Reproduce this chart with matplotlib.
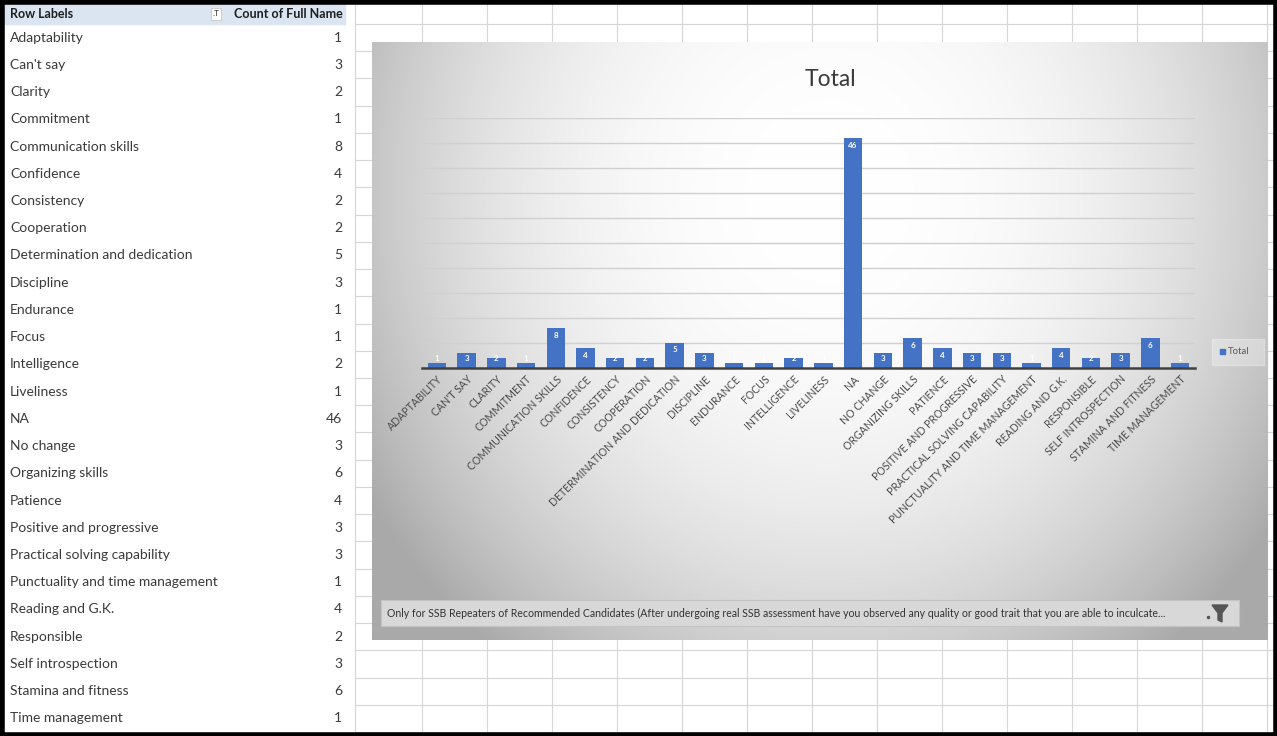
import numpy as np
import matplotlib.pyplot as plt
from matplotlib.patches import Rectangle, Polygon

# pivot table: trait -> count of full name
row_labels = ["Adaptability", "Can't say", "Clarity", "Commitment", "Communication skills",
              "Confidence", "Consistency", "Cooperation", "Determination and dedication",
              "Discipline", "Endurance", "Focus", "Intelligence", "Liveliness", "NA",
              "No change", "Organizing skills", "Patience", "Positive and progressive",
              "Practical solving capability", "Punctuality and time management",
              "Reading and G.K.", "Responsible", "Self introspection", "Stamina and fitness",
              "Time management"]
counts = [1, 3, 2, 1, 8, 4, 2, 2, 5, 3, 1, 1, 2, 1, 46, 3, 6, 4, 3, 3, 1, 4, 2, 3, 6, 1]
header = ["Row Labels", "Count of Full Name"]
chart_title = "Total"
filter_text = ("Only for SSB Repeaters of Recommended Candidates (After undergoing real SSB "
               "assessment have you observed any quality or good trait that you are able to inculcate...")

plt.rcParams["font.family"] = ["Lato", "DejaVu Sans"]

W, H = 1277, 736
fig = plt.figure(figsize=(W / 100, H / 100), dpi=100)

# --- sheet background in pixel coords ---
bg = fig.add_axes([0, 0, 1, 1])
bg.set_xlim(0, W)
bg.set_ylim(H, 0)
bg.axis("off")

top, head_h = 4, 20
row_h = (H - 4 - top - head_h) / len(row_labels)
grid_c = "#d6d6d6"

# cell grid right of the pivot table
for k in range(len(row_labels) + 1):
    y = top + head_h + k * row_h
    bg.plot([355, W], [y, y], color=grid_c, lw=0.8)
for x in [355, 422, 487, 552, 617, 682, 747, 812, 877, 942, 1007, 1072, 1137, 1202, 1267]:
    bg.plot([x, x], [top, H], color=grid_c, lw=0.8)

# header row
bg.add_patch(Rectangle((4, top), 341, head_h, color="#dbe5f1", zorder=2))
bg.text(10, top + head_h / 2, header[0], fontsize=9, fontweight="bold", va="center", color="#1f1f1f", zorder=3)
bg.text(343, top + head_h / 2, header[1], fontsize=9, fontweight="bold", va="center", ha="right", color="#1f1f1f", zorder=3)
bg.add_patch(Rectangle((211, top + 4), 10, 12, facecolor="white", edgecolor="#c8c8c8", lw=0.6, zorder=3))
bg.text(216, top + 10, ".T", fontsize=6, va="center", ha="center", color="#333333", zorder=4)

for i, (lab, n) in enumerate(zip(row_labels, counts)):
    yc = top + head_h + (i + 0.5) * row_h
    bg.text(10, yc, lab, fontsize=10, va="center", color="#3a3a3a")
    bg.text(342, yc, str(n), fontsize=10, va="center", ha="right", color="#3a3a3a")

# --- chart area with radial gradient ---
cx0, cy0, cx1, cy1 = 372, 42, 1268, 640
chart_bg = fig.add_axes([cx0 / W, 1 - cy1 / H, (cx1 - cx0) / W, (cy1 - cy0) / H])
gx, gy = np.meshgrid(np.linspace(-1, 1, 400), np.linspace(-1, 1, 300))
r = np.sqrt(((gx - 0.02) / 1.05) ** 2 + ((gy + 0.5) / 1.7) ** 2)
shade = 1 - 0.24 * np.clip(r, 0, 1.15) ** 2.4
chart_bg.imshow(np.dstack([shade, shade, shade]), aspect="auto", extent=[0, 1, 0, 1], origin="upper")
chart_bg.axis("off")

# --- bar chart ---
px0, px1, py0, py1 = 422, 1195, 118, 368
ax = fig.add_axes([px0 / W, 1 - py1 / H, (px1 - px0) / W, (py1 - py0) / H])
ax.patch.set_alpha(0)
x = np.arange(len(row_labels))
bars = ax.bar(x, counts, width=0.62, color="#4472c4", zorder=3)
ax.set_xlim(-0.5, len(row_labels) - 0.5)
ax.set_ylim(0, 50)
ax.set_yticks(np.arange(5, 51, 5))
ax.yaxis.grid(True, color="#d0d0d0", lw=1.0)
ax.tick_params(axis="y", left=False, labelleft=False)
ax.tick_params(axis="x", length=0, pad=4)
for s in ["top", "right", "left"]:
    ax.spines[s].set_visible(False)
ax.spines["bottom"].set_color("#404040")
ax.spines["bottom"].set_linewidth(1.8)
ax.spines["bottom"].set_zorder(4)
ax.set_xticks(x)
ax.set_xticklabels([s.upper() for s in row_labels], rotation=45, ha="right",
                   rotation_mode="anchor", fontsize=7.6, color="#4a4a4a")

for xi, v in zip(x, counts):
    ax.text(xi, max(v - 1.4, 1.9), str(v), ha="center", va="center",
            fontsize=5.8, color="white", fontweight="bold", zorder=5)

fig.text(830 / W, 1 - 80 / H, chart_title, fontsize=16.5, ha="center", va="center", color="#3a3a3a")

# --- overlay: legend, report filter button, outer frame ---
ov = fig.add_axes([0, 0, 1, 1])
ov.set_xlim(0, W)
ov.set_ylim(H, 0)
ov.axis("off")

ov.add_patch(Rectangle((1212, 339), 52, 26, color="white", alpha=0.3))
ov.add_patch(Rectangle((1220, 349), 5, 5, color="#4472c4"))
ov.text(1228, 352, chart_title, fontsize=6.8, va="center", color="#595959")

ov.add_patch(Rectangle((381, 600), 858, 26, facecolor="#d8d8d8", edgecolor="#c4c4c4", lw=0.8))
ov.text(387, 613, filter_text, fontsize=7.6, va="center", color="#333333")
ov.add_patch(Polygon([(1212, 605), (1228, 605), (1222, 613), (1222, 622), (1218, 620), (1218, 613)],
                     closed=True, color="#555555"))
ov.plot([1208], [617], marker="o", ms=1.5, color="#555555")

# black frame round the sheet
ov.add_patch(Rectangle((1.5, 1.5), W - 3, H - 3, fill=False, edgecolor="black", lw=4))

fig.savefig("out.png", dpi=100)
